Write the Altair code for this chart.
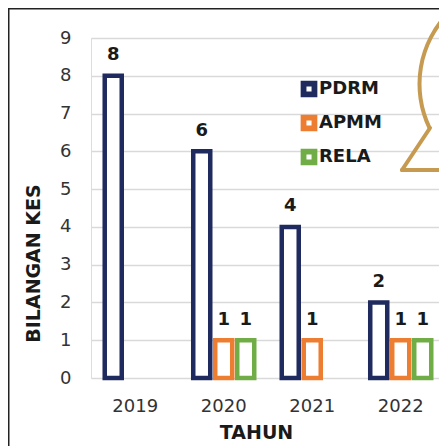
import altair as alt
import pandas as pd

# ---- data ----
years = ["2019", "2020", "2021", "2022"]
agencies = ["PDRM", "APMM", "RELA"]
pdrm = [8, 6, 4, 2]
apmm = [None, 1, 1, 1]
rela = [None, 1, None, 1]
colors = ["#1F2A5E", "#ED7D31", "#70AD47"]

rows = []
for agency, series in zip(agencies, [pdrm, apmm, rela]):
    for year, v in zip(years, series):
        if v is not None:
            rows.append({"Tahun": year, "Agensi": agency, "Bilangan": v})
df = pd.DataFrame(rows)

FONT = "DejaVu Sans"
GOLD = "#C69A50"
DARK = "#1a1a1a"

x_enc = alt.X(
    "Tahun:N",
    sort=years,
    scale=alt.Scale(range=[0, 354], paddingInner=0.254, paddingOuter=0.127),
    axis=alt.Axis(
        title="TAHUN",
        titleFont=FONT, titleFontSize=19, titleFontWeight="bold", titleColor=DARK,
        titleX=165, titleY=45, titleBaseline="top", titleAlign="center",
        labelAngle=0, labelFont=FONT, labelFontSize=18, labelColor="#333333",
        labelPadding=19, tickSize=0, ticks=False, domain=False, grid=False,
    ),
)
xoff_enc = alt.XOffset(
    "Agensi:N", sort=agencies,
    scale=alt.Scale(domain=agencies, range=[0, 66],
                    paddingInner=0.227, paddingOuter=0.1135),
)
y_enc = alt.Y(
    "Bilangan:Q",
    scale=alt.Scale(domain=[0, 9], nice=False),
    axis=alt.Axis(
        title="BILANGAN KES",
        titleFont=FONT, titleFontSize=19, titleFontWeight="bold", titleColor=DARK,
        titleX=-58, titleY=225, titleBaseline="middle", titleAlign="center",
        values=list(range(10)), labelOverlap=False,
        labelFont=FONT, labelFontSize=18, labelColor="#333333",
        labelPadding=20, tickSize=0, ticks=False, domain=False,
        grid=True, gridColor="#D9D9D9", gridWidth=1.5,
    ),
)

base = alt.Chart(df)

bars = base.mark_bar(fill="white", strokeWidth=4.5).encode(
    x=x_enc,
    xOffset=xoff_enc,
    y=y_enc,
    stroke=alt.Stroke(
        "Agensi:N",
        scale=alt.Scale(domain=agencies, range=colors),
        legend=alt.Legend(
            title=None, orient="none", legendX=209, legendY=42,
            symbolType="square", symbolSize=119, symbolStrokeWidth=5.8,
            symbolFillColor="white", labelFont=FONT, labelFontSize=18,
            labelFontWeight="bold", labelColor=DARK, labelOffset=1,
            rowPadding=-2, padding=0,
        ),
    ),
)

labels = base.mark_text(
    font=FONT, fontSize=18, fontWeight="bold", color=DARK,
    baseline="alphabetic", dy=-15.5,
).encode(
    x=x_enc,
    xOffset=xoff_enc,
    y=y_enc,
    text=alt.Text("Bilangan:Q"),
)

one = alt.Chart(pd.DataFrame({"d": [0]}))

# frame lines (decoration)
top_line = one.mark_rule(color="#222222", strokeWidth=2).encode(
    x=alt.value(-83), x2=alt.value(360), y=alt.value(-29.5)
)
left_line = one.mark_rule(color="#222222", strokeWidth=2).encode(
    x=alt.value(-82.5), y=alt.value(-30), y2=alt.value(420)
)

# speech-bubble outline (decoration)
bubble_arc = one.mark_arc(x=430, y=46, fill=GOLD).encode(
    theta=alt.value(4.26), theta2=alt.value(5.5),
    radius=alt.value(103.5), radius2=alt.value(99.5),
)
bubble_tip = one.mark_rule(color=GOLD, strokeWidth=4, strokeCap="round").encode(
    x=alt.value(339), y=alt.value(90), x2=alt.value(311), y2=alt.value(132)
)
bubble_base = one.mark_rule(color=GOLD, strokeWidth=4, strokeCap="round").encode(
    x=alt.value(311), x2=alt.value(370), y=alt.value(132)
)

chart = alt.layer(
    bars, labels, top_line, left_line, bubble_arc, bubble_tip, bubble_base
).properties(
    width=348, height=340,
    autosize=alt.AutoSizeParams(type="none"),
    padding={"left": 83, "top": 30, "right": 0, "bottom": 68},
).configure_view(stroke=None).configure(background="white")

chart.save("out.html", embed_options={"renderer": "svg", "actions": False})
